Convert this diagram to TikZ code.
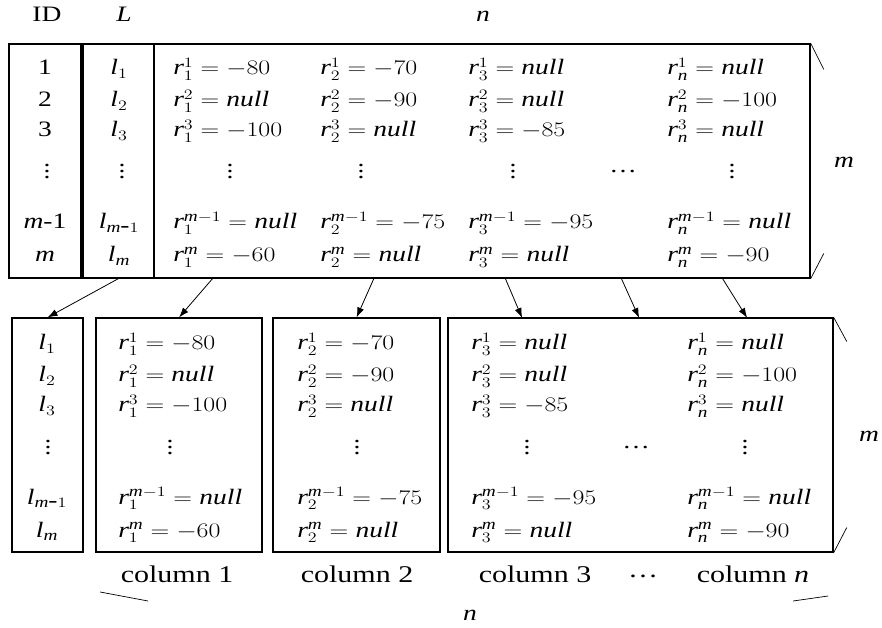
\documentclass[tikz,border=0pt]{standalone}
\usepackage{fontspec}
\setmainfont{Liberation Serif}
\DeclareSymbolFont{letters}{TU}{\rmdefault}{m}{it}
\DeclareSymbolFont{operators}{TU}{\rmdefault}{m}{n}
\usetikzlibrary{arrows.meta}
\newcommand{\nullv}{\mathit{null}}
\newcommand{\vdotz}{\vbox{\baselineskip=6pt\lineskiplimit=0pt\hbox{.}\hbox{.}\hbox{.}}}

\begin{document}
\begin{tikzpicture}[xscale=1.25, x=0.8pt, y=-1pt,
	cell/.style={inner sep=0pt, anchor=base west, transform shape, font=\fontsize{22}{26}\selectfont},
	mid/.style={cell, anchor=base},
	dotz/.style={cell, anchor=center},
	collabel/.style={mid, font=\fontsize{24}{28}\selectfont},
	box/.style={draw, line width=1.1pt, inner sep=0pt, minimum height=234pt},
	arr/.style={line width=0.8pt, -{Latex[length=10pt,width=7pt]}},
	bracepart/.style={line width=0.7pt}]
	
	\useasboundingbox (0,0) rectangle (882,628);
	
	% ---- Headers ----
	\node[mid] (hid) at (47,22) {ID};
	\node[mid] (hl) at (124,22) {$L$};
	\node[mid] (hn) at (483,22) {$n$};
	\node[mid] (hm) at (844,168) {$m$};
	\node[mid] (bm) at (869,442) {$m$};
	\node[mid] (bn) at (470,620) {$n$};
	
	% ---- Boxes of the whole table ----
	\node[box, minimum width=72pt] (idbox) at (45,161) {};
	\node[box, minimum width=71pt] (lbox) at (118.5,161) {};
	\node[box, minimum width=656pt] (mainbox) at (482,161) {};
	
	% ---- Boxes of the columns ----
	\node[box, minimum width=71pt] (blbox) at (47.5,435) {};
	\node[box, minimum width=166pt] (col1box) at (179,435) {};
	\node[box, minimum width=167pt] (col2box) at (356.5,435) {};
	\node[box, minimum width=385pt] (col3box) at (640.5,435) {};
	
	% ---- Rows (top table, then the same values split in columns) ----
	\foreach \y/\id/\k/\el/\va/\vb/\vc/\vn [count=\i] in {
		75/1/1/l_1/-80/-70/\nullv/\nullv,
		107/2/2/l_2/\nullv/-90/\nullv/-100,
		137/3/3/l_3/-100/\nullv/-85/\nullv,
		229/{$m$-1}/{m-1}/{l_{m\mbox{-}1}}/\nullv/-75/-95/\nullv,
		262/{$m$}/m/l_m/-60/\nullv/\nullv/-90
	}
	{
		\node[mid] (tid\i) at (45,\y) {\id};
		\node[mid] (tl\i) at (119,\y) {$\el$};
		\node[cell] (ta\i) at (173,\y) {$r_1^{\k}=\va$};
		\node[cell] (tb\i) at (320,\y) {$r_2^{\k}=\vb$};
		\node[cell] (tc\i) at (468,\y) {$r_3^{\k}=\vc$};
		\node[cell] (tn\i) at (667,\y) {$r_n^{\k}=\vn$};
		
		\node[mid] (bl\i) at (47,\y+275) {$\el$};
		\node[cell] (ba\i) at (118,\y+275) {$r_1^{\k}=\va$};
		\node[cell] (bb\i) at (297,\y+275) {$r_2^{\k}=\vb$};
		\node[cell] (bc\i) at (471,\y+275) {$r_3^{\k}=\vc$};
		\node[cell] (bn\i) at (687,\y+275) {$r_n^{\k}=\vn$};
	}
	
	% ---- Dotted rows ----
	\foreach \x/\name in {47/id, 122/l, 230/a, 361/b, 513/c, 732/n}
	\node[dotz] (tv\name) at (\x,172) {\vdotz};
	\node[dotz] (th) at (623,172) {\ldots};
	\foreach \x/\name in {48/l, 170/a, 357/b, 527/c, 745/n}
	\node[dotz] (bv\name) at (\x,448) {\vdotz};
	\node[dotz] (bh) at (636,448) {\ldots};
	
	% ---- Column names ----
	\node[collabel] (c1) at (177,583) {column 1};
	\node[collabel] (c2) at (357,583) {column 2};
	\node[collabel] (c3) at (535,583) {column 3};
	\node[dotz, font=\fontsize{24}{28}\selectfont] (cdots) at (643,576) {\ldots};
	\node[collabel] (cn) at (753,583) {column $n$};
	
	% ---- Arrows ----
	\coordinate (from1) at (213,278);
	\coordinate (from2) at (374,278);
	\draw[arr] (lbox.south) -- (blbox.north);
	\draw[arr] (from1) -- (col1box.north);
	\draw[arr] (from2) -- (col2box.north);
	\foreach \name/\xa/\xb in {a/505/522, b/621/639, c/722/747}
	{
		\coordinate (from\name) at (\xa,278);
		\coordinate (to\name) at (\xb,318);
		\draw[arr] (from\name) -- (to\name);
	}
	
	% ---- Brace ends ----
	\draw[bracepart] (mainbox.north east) -- ++(13,26);
	\draw[bracepart] (mainbox.south east) -- ++(13,-25);
	\draw[bracepart] (col3box.north east) -- ++(13,24);
	\draw[bracepart] (col3box.south east) -- ++(13,-25);
	\coordinate (nl) at (100,592);
	\coordinate (nr) at (828,596);
	\draw[bracepart] (nl) -- ++(48,9);
	\draw[bracepart] (nr) -- ++(-35,5);
	
\end{tikzpicture}
\end{document}
